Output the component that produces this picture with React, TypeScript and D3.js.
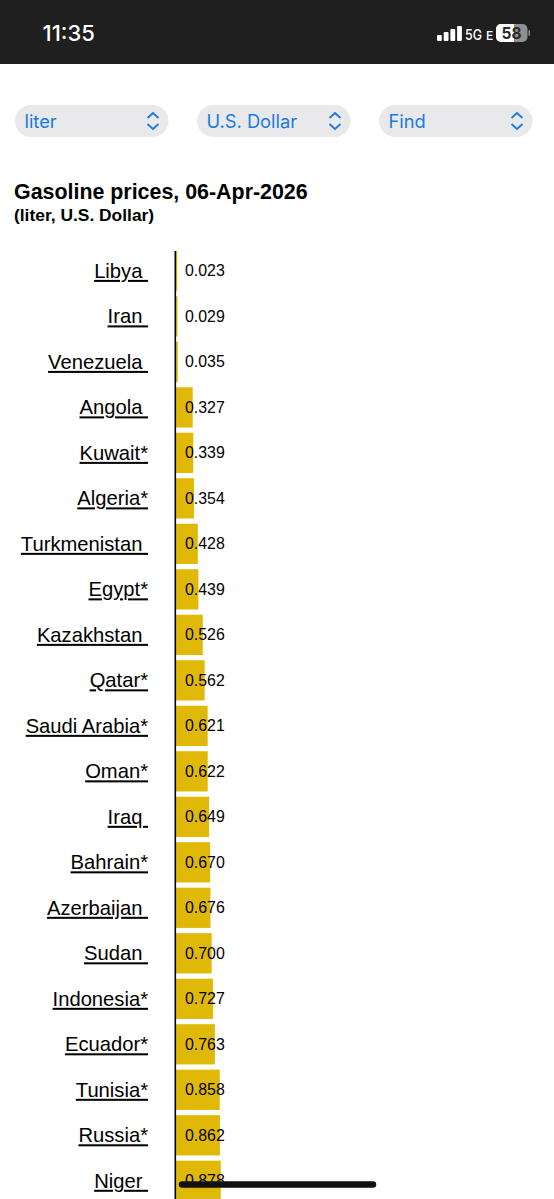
import React from "react";
import * as d3 from "d3";

const countries = ["Libya\u00a0","Iran\u00a0","Venezuela\u00a0","Angola\u00a0","Kuwait*","Algeria*","Turkmenistan\u00a0","Egypt*","Kazakhstan\u00a0","Qatar*","Saudi Arabia*","Oman*","Iraq\u00a0","Bahrain*","Azerbaijan\u00a0","Sudan\u00a0","Indonesia*","Ecuador*","Tunisia*","Russia*","Niger\u00a0"];
const prices = [0.023,0.029,0.035,0.327,0.339,0.354,0.428,0.439,0.526,0.562,0.621,0.622,0.649,0.670,0.676,0.700,0.727,0.763,0.858,0.862,0.878];
const selectLabels = ["liter","U.S. Dollar","Find"];
const signalHeights = [6,9,12,15];

const W = 554, H = 1199;
const FONT = "'Liberation Sans', Arial, sans-serif";
const SYS = "Inter, 'Liberation Sans', sans-serif";

export default function App() {
  const x = d3.scaleLinear().domain([0, 1]).range([176, 227]);
  const y = d3.scaleBand<string>().domain(countries).range([248.5, 1203.2]).paddingInner(0.115).paddingOuter(0.05);
  const bw = y.bandwidth();
  return (
    <svg width={W} height={H} viewBox={`0 0 ${W} ${H}`} style={{ position: "fixed", left: 0, top: 0, background: "#fff" }}>
      <rect x={0} y={0} width={W} height={64} fill="#1f1f1f" />
      <text x={42.5} y={41} fontFamily={SYS} fontSize={22} fontWeight={500} fill="#fff">11:35</text>
      {signalHeights.map((h, i) => (
        <rect key={i} x={437 + i * 6.7} y={41 - h} width={4.8} height={h} rx={1} fill="#fff" />
      ))}
      <text x={465} y={40} fontFamily={SYS} fontSize={14.5} fontWeight={500} fill="#fff" textLength={17} lengthAdjust="spacingAndGlyphs">5G</text>
      <text x={486} y={40} fontFamily={SYS} fontSize={12} fontWeight={500} fill="#fff">E</text>
      <rect x={496} y={24} width={31.5} height={18} rx={5} fill="#8f8f8f" />
      <path d="M501,24 H514 V42 H501 A5,5 0 0 1 496,37 V29 A5,5 0 0 1 501,24 Z" fill="#fff" />
      <rect x={528.5} y={30} width={1.5} height={6} rx={0.7} fill="#8f8f8f" />
      <text x={511.5} y={39} textAnchor="middle" fontFamily={SYS} fontSize={15.5} fontWeight={700} fill="#2a2a2a">58</text>

      {selectLabels.map((s, i) => {
        const px = 15 + i * 182;
        const cy = 121;
        const cx = px + 138;
        return (
          <g key={s}>
            <rect x={px} y={105} width={153.5} height={32} rx={16} fill="#e9e9eb" />
            <text x={px + 9.5} y={127.5} fontFamily={SYS} fontSize={18.3} fill="#1a7ae0">{s}</text>
            <path d={`M${cx - 5.5},${cy - 3} L${cx},${cy - 8} L${cx + 5.5},${cy - 3} M${cx - 5.5},${cy + 3} L${cx},${cy + 8} L${cx + 5.5},${cy + 3}`} fill="none" stroke="#1a7ae0" strokeWidth={1.8} />
          </g>
        );
      })}

      <text x={14} y={198.5} fontFamily={FONT} fontSize={21.4} fontWeight={700} fill="#000">Gasoline prices, 06-Apr-2026</text>
      <text x={14} y={221} fontFamily={FONT} fontSize={17.4} fontWeight={700} fill="#000">(liter, U.S. Dollar)</text>

      {countries.map((c, i) => {
        const by = y(c)!;
        const my = by + bw / 2;
        return (
          <g key={c}>
            <rect x={x(0)} y={by} width={x(prices[i]) - x(0)} height={bw} fill="#e0b908" />
            <text x={148} y={my + 7} textAnchor="end" fontFamily={FONT} fontSize={20.2} fill="#000" textDecoration="underline">{c}</text>
            <text x={185} y={my + 5.5} fontFamily={FONT} fontSize={15.9} fill="#000">{prices[i].toFixed(3)}</text>
          </g>
        );
      })}
      <line x1={175.3} x2={175.3} y1={251} y2={H} stroke="#000" strokeWidth={1.6} />
      <line x1={182} x2={373} y1={1184.5} y2={1184.5} stroke="#111" strokeWidth={6.5} strokeLinecap="round" />
    </svg>
  );
}
